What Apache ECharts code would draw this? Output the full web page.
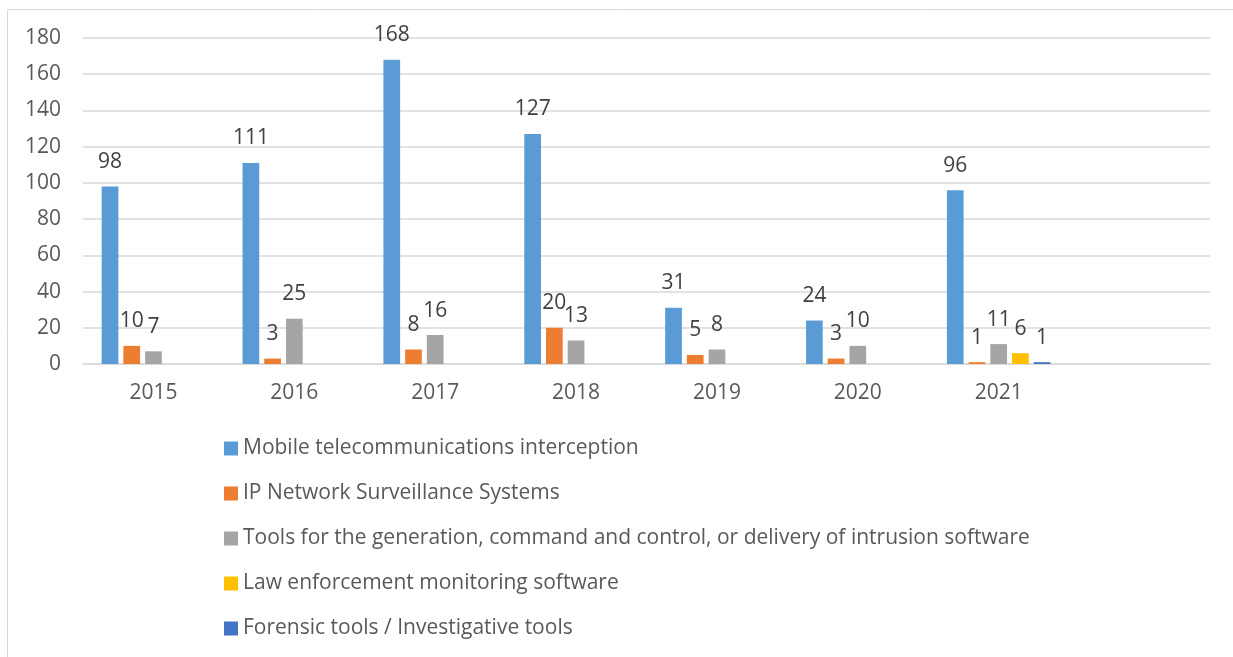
<!DOCTYPE html>
<html>
<head>
<meta charset="utf-8">
<style>
  html, body { margin: 0; padding: 0; background: #ffffff; }
  #chart { width: 1233px; height: 657px; }
</style>
<script src="https://cdn.jsdelivr.net/npm/echarts@6/dist/echarts.min.js"></script>
</head>
<body>
<div id="chart"></div>
<script>
// Years on the category axis (the last slot is left empty)
const years = ['2015', '2016', '2017', '2018', '2019', '2020', '2021', ''];

// Counts per technology category and year
const mobileInterception = [98, 111, 168, 127, 31, 24, 96, null];
const ipSurveillance     = [10, 3, 8, 20, 5, 3, 1, null];
const intrusionTools     = [7, 25, 16, 13, 8, 10, 11, null];
const lawEnforcement     = [null, null, null, null, null, null, 6, null];
const forensicTools      = [null, null, null, null, null, null, 1, null];

const seriesNames = [
  'Mobile telecommunications interception',
  'IP Network Surveillance Systems',
  'Tools for the generation, command and control, or delivery of intrusion software',
  'Law enforcement monitoring software',
  'Forensic tools / Investigative tools'
];
const seriesData = [mobileInterception, ipSurveillance, intrusionTools, lawEnforcement, forensicTools];
const palette = ['#5B9BD5', '#ED7D31', '#A5A5A5', '#FFC000', '#4472C4'];

const yTicks = { min: 0, max: 180, step: 20 };

const FONT = '"Open Sans", "Noto Sans", sans-serif';
const FONT_SIZE = 21;

const chart = echarts.init(document.getElementById('chart'), null, { renderer: 'canvas' });

chart.setOption({
  animation: false,
  backgroundColor: '#ffffff',
  color: palette,
  textStyle: { fontFamily: FONT },
  graphic: [{
    type: 'rect',
    shape: { x: 7.5, y: 9.5, width: 1240, height: 700 },
    style: { fill: 'none', stroke: '#d9d9d9', lineWidth: 1 },
    silent: true
  }],
  grid: { left: 83, right: 23, top: 38, bottom: 293, containLabel: false },
  xAxis: {
    type: 'category',
    data: years,
    axisLine: { show: true, lineStyle: { color: '#d9d9d9', width: 1.5 } },
    axisTick: { show: false },
    axisLabel: { color: '#595959', fontSize: FONT_SIZE, fontFamily: FONT, margin: 19 },
    splitLine: { show: false }
  },
  yAxis: {
    type: 'value',
    min: yTicks.min,
    max: yTicks.max,
    interval: yTicks.step,
    axisLine: { show: false },
    axisTick: { show: false },
    axisLabel: { color: '#595959', fontSize: FONT_SIZE, fontFamily: FONT, margin: 22 },
    splitLine: { lineStyle: { color: '#d9d9d9', width: 1.5 } }
  },
  legend: {
    orient: 'vertical',
    left: 224,
    top: 438,
    padding: 0,
    itemWidth: 14,
    itemHeight: 14,
    itemGap: 24,
    height: 300,
    icon: 'rect',
    textStyle: { color: '#595959', fontSize: FONT_SIZE, fontFamily: FONT },
    data: seriesNames
  },
  series: seriesNames.map((name, i) => ({
    name: name,
    type: 'bar',
    data: seriesData[i],
    barGap: '30%',
    barCategoryGap: '26.5%',
    itemStyle: { color: palette[i] },
    label: {
      show: true,
      position: 'top',
      distance: 14,
      color: '#404040',
      fontSize: FONT_SIZE,
      fontFamily: FONT
    }
  }))
});
</script>
</body>
</html>
